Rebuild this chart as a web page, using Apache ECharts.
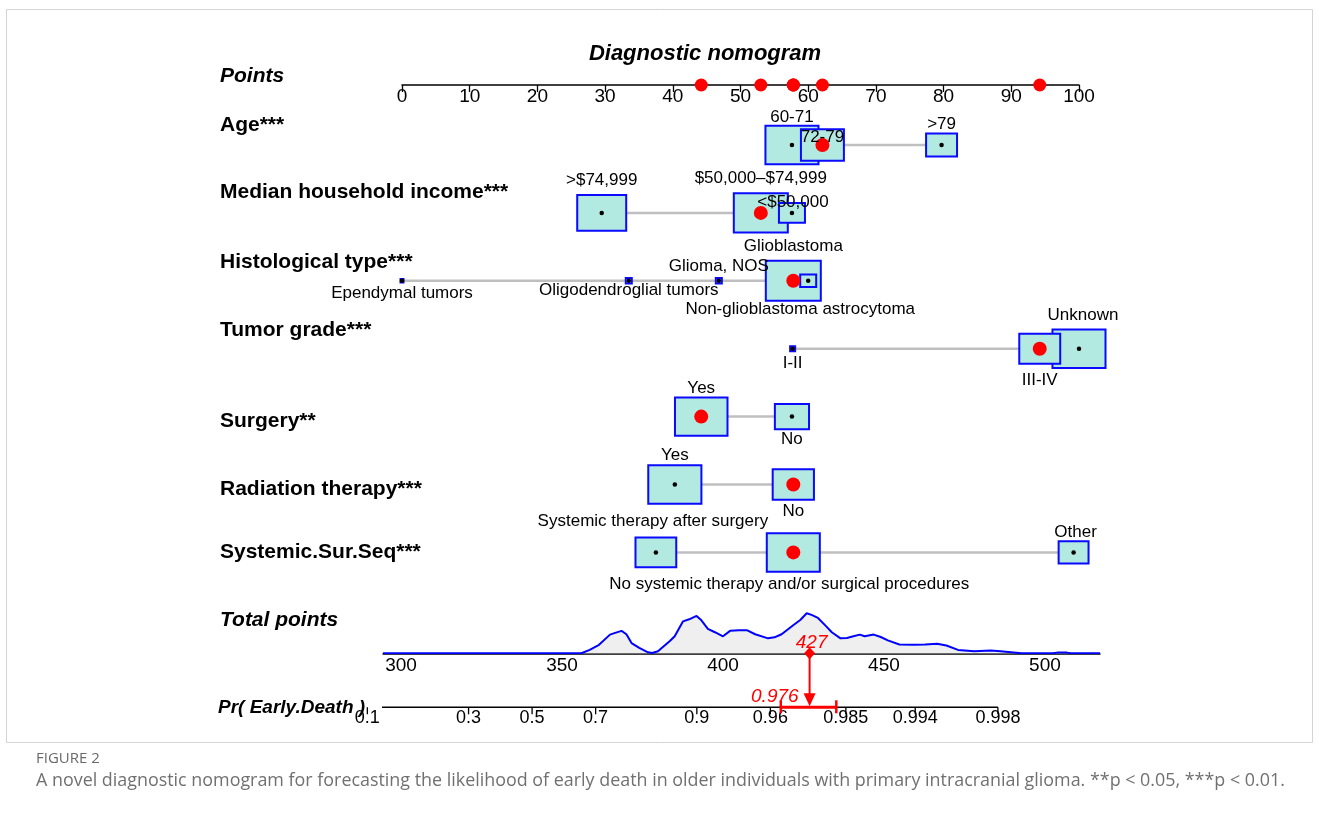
<!DOCTYPE html>
<html>
<head>
<meta charset="utf-8">
<title>Diagnostic nomogram</title>
<script src="https://cdn.jsdelivr.net/npm/echarts@6/dist/echarts.min.js"></script>
<style>
  html, body { margin: 0; padding: 0; background: #ffffff; }
  #chart { width: 1319px; height: 817px; }
</style>
</head>
<body>
<div id="chart"></div>
<script>
// ---------------- data ----------------
const variableNames = ['Age***', 'Median household income***', 'Histological type***', 'Tumor grade***',
  'Surgery**', 'Radiation therapy***', 'Systemic.Sur.Seq***'];

const ageLevels = ['60-71', '72-79', '>79'];
const agePoints = [57.6, 62.1, 79.7];
const ageFreq = [22.0, 14.7, 7.9];

const incomeLevels = ['>$74,999', '$50,000\u2013$74,999', '<$50,000'];
const incomePoints = [29.5, 53.0, 57.6];
const incomeFreq = [18.9, 22.8, 5.7];

const histLevels = ['Ependymal tumors', 'Oligodendroglial tumors', 'Glioma, NOS', 'Glioblastoma', 'Non-glioblastoma astrocytoma'];
const histPoints = [0, 33.5, 46.8, 57.8, 60.0];
const histFreq = [0.18, 0.47, 0.47, 23.6, 2.35];

const gradeLevels = ['I-II', 'III-IV', 'Unknown'];
const gradePoints = [57.7, 94.2, 100];
const gradeFreq = [0.36, 13.4, 22.0];

const surgeryLevels = ['Yes', 'No'];
const surgeryPoints = [44.2, 57.6];
const surgeryFreq = [21.6, 9.5];

const radiationLevels = ['Yes', 'No'];
const radiationPoints = [40.3, 57.8];
const radiationFreq = [22.1, 13.6];

const systemicLevels = ['Systemic therapy after surgery', 'No systemic therapy and/or surgical procedures', 'Other'];
const systemicPoints = [37.5, 57.8, 99.2];
const systemicFreq = [13.3, 22.0, 7.4];

// profile of the patient plotted in red
const patientLevels = ['72-79', '$50,000\u2013$74,999', 'Glioblastoma', 'III-IV', 'Yes', 'No',
  'No systemic therapy and/or surgical procedures'];

// axes
const pointTicks = [0, 10, 20, 30, 40, 50, 60, 70, 80, 90, 100];
const totalTicks = [300, 350, 400, 450, 500];
const probTicks = [0.1, 0.3, 0.5, 0.7, 0.9, 0.96, 0.985, 0.994, 0.998];

// logistic link: logit(p) = intercept + slope * total points
const lpIntercept = -14.63;
const lpSlope = 0.04294;
const probCI = [0.965, 0.983];

// distribution of total points in the cohort
const densityTotal = [294.4, 356, 358.6, 361.5, 364.9, 366.5, 368.5, 370, 371.6, 374, 376.7, 378, 379.8, 383.5, 385,
  387.6, 389.5, 391.8, 393.3, 395.3, 397.5, 400, 402.2, 405, 407.4, 410, 414, 416, 418.2, 421.7, 424, 426, 427.5,
  429.5, 432, 433.8, 436.5, 438.5, 440.5, 442.5, 444, 446.8, 449, 451.2, 454.8, 459.2, 462.8, 466.5, 469.4, 473,
  478.1, 483.2, 486.2, 492.7, 502.5, 503.8, 506.8, 508, 517.1];
const densityHeight = [0, 0, 10, 25, 55, 60, 66, 56, 30, 16, 3, 1, 6, 36, 50,
  94, 100, 110, 97, 72, 62, 50, 66, 68, 68, 56, 44, 47, 56, 82, 98, 118, 113,
  104, 80, 62, 44, 45, 50, 55, 50, 55, 48, 38, 26, 25, 26, 28, 23, 10,
  6, 8, 6, 0, 0, 2, 2, 0, 0];

// ---------------- layout ----------------
const FONT = '"Liberation Sans", Arial, sans-serif';
const CAPTION_FONT = '"Open Sans", sans-serif';
const NAME_X = 220;
const nameOffset = [-20, -21, -19, -18.5, 4.5, 4.5, -0.5];
const levelLabelOffset = [
  [[0, -28], [0, -8], [0, -21]],
  [[0, -33], [0, -35], [1, -11]],
  [[0, 13], [0, 10], [0, -14], [0, -34], [-8, 29]],
  [[0, 14.5], [0, 31.5], [4, -33.5]],
  [[0, -28], [0, 22.5]],
  [[0, -29], [0, 26.5]],
  [[-3, -31], [-4, 32], [2, -20.5]]
];
const BOX_K = 11.73;
const BOX_FILL = '#b2e9e0';
const BOX_EDGE = '#0a0aff';
const RED = '#ff0000';

const rows = [
  { levels: ageLevels, points: agePoints, freq: ageFreq },
  { levels: incomeLevels, points: incomePoints, freq: incomeFreq },
  { levels: histLevels, points: histPoints, freq: histFreq },
  { levels: gradeLevels, points: gradePoints, freq: gradeFreq },
  { levels: surgeryLevels, points: surgeryPoints, freq: surgeryFreq },
  { levels: radiationLevels, points: radiationPoints, freq: radiationFreq },
  { levels: systemicLevels, points: systemicPoints, freq: systemicFreq }
];

// one item per level: [points, row, freq, levelIndex]
const levelItems = [];
rows.forEach((r, i) => r.levels.forEach((lv, j) => levelItems.push([r.points[j], i, r.freq[j], j])));
// larger boxes first so that small ones stay visible on top
const boxItems = levelItems.slice().sort((a, b) => b[2] - a[2]);
const rangeItems = rows.map((r, i) => [Math.min(...r.points), i, Math.max(...r.points)]);
const patientItems = rows.map((r, i) => [r.points[r.levels.indexOf(patientLevels[i])], i]);
const patientTotal = patientItems.reduce((s, d) => s + d[0], 0);
const logit = p => Math.log(p / (1 - p));
const totalForProb = p => (logit(p) - lpIntercept) / lpSlope;
const patientProb = 1 / (1 + Math.exp(-(lpIntercept + lpSlope * patientTotal)));

function boxSize(freq) {
  const w = Math.max(5, BOX_K * Math.sqrt(freq));
  return [w, Math.max(5, 0.7 * w + 2)];
}

const chart = echarts.init(document.getElementById('chart'));

const option = {
  animation: false,
  backgroundColor: '#ffffff',
  textStyle: { fontFamily: FONT },
  grid: [
    { left: 402, width: 677, top: 60, height: 25 },          // points scale
    { left: 402, width: 677, top: 77.1, height: 543.2 },     // predictor rows
    { left: 383, width: 717, top: 603, height: 50.3 },       // total points
    { left: 383, width: 717, top: 653.3, height: 54 }        // probability
  ],
  xAxis: [
    {
      gridIndex: 0, type: 'value', min: 0, max: 100, interval: 10, position: 'bottom',
      axisLine: { lineStyle: { color: '#000', width: 1.5 } },
      axisTick: { length: 7, lineStyle: { color: '#000', width: 1.3 } },
      axisLabel: { margin: 2, fontSize: 19, color: '#000', fontFamily: FONT,
        customValues: pointTicks },
      splitLine: { show: false }
    },
    { gridIndex: 1, type: 'value', min: 0, max: 100, show: false },
    {
      gridIndex: 2, type: 'value', min: 294.4, max: 517.1, position: 'bottom',
      axisLine: { lineStyle: { color: '#000', width: 1.5 } },
      axisTick: { show: false },
      axisLabel: { margin: 3, fontSize: 19, color: '#000', fontFamily: FONT, customValues: totalTicks },
      splitLine: { show: false }
    },
    { gridIndex: 3, type: 'value', min: 294.4, max: 517.1, show: false }
  ],
  yAxis: [
    { gridIndex: 0, type: 'value', min: 0, max: 1, show: false },
    { gridIndex: 1, type: 'value', min: -1, max: 7, inverse: true, show: false },
    { gridIndex: 2, type: 'value', min: 0, max: 148, show: false },
    { gridIndex: 3, type: 'value', min: 0, max: 1, show: false }
  ],
  graphic: [
    { type: 'rect', silent: true, shape: { x: 6.5, y: 9.5, width: 1306, height: 733 },
      style: { fill: null, stroke: '#d4d4d4', lineWidth: 1 } },
    { type: 'text', x: 705, y: 54, style: { text: 'Diagnostic nomogram', font: 'italic bold 22px ' + FONT,
      fill: '#000', align: 'center', verticalAlign: 'middle' } },
    { type: 'text', x: NAME_X, y: 76, style: { text: 'Points', font: 'italic bold 21px ' + FONT,
      fill: '#000', align: 'left', verticalAlign: 'middle' } },
    { type: 'text', x: NAME_X, y: 620, style: { text: 'Total points', font: 'italic bold 21px ' + FONT,
      fill: '#000', align: 'left', verticalAlign: 'middle' } },
    { type: 'text', x: 218, y: 708, style: { text: 'Pr( Early.Death )', font: 'italic bold 19px ' + FONT,
      fill: '#000', align: 'left', verticalAlign: 'middle' } },
    { type: 'text', x: 36, y: 759, style: { text: 'FIGURE 2', font: '15px ' + CAPTION_FONT,
      fill: '#6a6a6a', align: 'left', verticalAlign: 'middle' } },
    { type: 'text', x: 36, y: 781, style: {
      text: 'A novel diagnostic nomogram for forecasting the likelihood of early death in older individuals with primary intracranial glioma. **p < 0.05, ***p < 0.01.',
      font: '17.9px ' + CAPTION_FONT, fill: '#707070', align: 'left', verticalAlign: 'middle' } }
  ],
  series: [
    // patient points on the points scale
    {
      type: 'scatter', xAxisIndex: 0, yAxisIndex: 0, data: patientItems.map(d => [d[0], 0]),
      symbol: 'circle', symbolSize: 13, itemStyle: { color: RED, opacity: 1 }, clip: false, silent: true, z: 5
    },
    // variable names
    {
      type: 'custom', xAxisIndex: 1, yAxisIndex: 1, silent: true,
      data: variableNames.map((n, i) => [0, i]),
      renderItem(params, api) {
        const i = api.value(1);
        const p = api.coord([0, i]);
        return { type: 'text', x: NAME_X, y: p[1] + nameOffset[i],
          style: { text: variableNames[i], font: 'bold 21px ' + FONT, fill: '#000', align: 'left', verticalAlign: 'middle' } };
      }
    },
    // connecting line of each row
    {
      type: 'custom', xAxisIndex: 1, yAxisIndex: 1, silent: true, z: 2,
      data: rangeItems,
      renderItem(params, api) {
        const a = api.coord([api.value(0), api.value(1)]);
        const b = api.coord([api.value(2), api.value(1)]);
        return { type: 'line', shape: { x1: a[0], y1: a[1], x2: b[0], y2: b[1] },
          style: { stroke: '#bfbfbf', lineWidth: 2.5 } };
      }
    },
    // frequency boxes
    {
      type: 'custom', xAxisIndex: 1, yAxisIndex: 1, silent: true, z: 3,
      data: boxItems,
      renderItem(params, api) {
        const c = api.coord([api.value(0), api.value(1)]);
        const s = boxSize(api.value(2));
        return { type: 'rect',
          shape: { x: c[0] - s[0] / 2 + 1, y: c[1] - s[1] / 2 + 1, width: s[0] - 2, height: s[1] - 2 },
          style: { fill: BOX_FILL, stroke: BOX_EDGE, lineWidth: 2 } };
      }
    },
    // level markers
    {
      type: 'scatter', xAxisIndex: 1, yAxisIndex: 1, silent: true, z: 4,
      data: levelItems.map(d => [d[0], d[1]]),
      symbol: 'circle', symbolSize: 4.5, itemStyle: { color: '#000', opacity: 1 }
    },
    // patient's level in each row
    {
      type: 'scatter', xAxisIndex: 1, yAxisIndex: 1, silent: true, z: 5,
      data: patientItems, symbol: 'circle', symbolSize: 14, itemStyle: { color: RED, opacity: 1 }
    },
    // level names
    {
      type: 'custom', xAxisIndex: 1, yAxisIndex: 1, silent: true, z: 6,
      data: levelItems,
      renderItem(params, api) {
        const row = api.value(1), j = api.value(3);
        const c = api.coord([api.value(0), row]);
        const off = levelLabelOffset[row][j];
        return { type: 'text', x: c[0] + off[0], y: c[1] + off[1],
          style: { text: rows[row].levels[j], font: '17px ' + FONT, fill: '#000', align: 'center', verticalAlign: 'middle' } };
      }
    },
    // density of total points
    {
      type: 'line', xAxisIndex: 2, yAxisIndex: 2, silent: true, z: 3,
      data: densityTotal.map((t, i) => [t, densityHeight[i]]),
      showSymbol: false, smooth: false,
      lineStyle: { color: '#0000ff', width: 2 },
      areaStyle: { color: '#efefef', opacity: 1 }
    },
    // patient's total points
    {
      type: 'custom', xAxisIndex: 2, yAxisIndex: 2, silent: true, z: 6,
      data: [[patientTotal, 0]],
      renderItem(params, api) {
        const c = api.coord([api.value(0), api.value(1)]);
        return { type: 'group', children: [
          { type: 'polygon', shape: { points: [[c[0], c[1] - 6], [c[0] + 5.5, c[1]], [c[0], c[1] + 6], [c[0] - 5.5, c[1]]] },
            style: { fill: RED } },
          { type: 'text', x: c[0] + 2, y: c[1] - 11,
            style: { text: String(Math.round(api.value(0))), font: 'italic 19px ' + FONT, fill: RED,
              align: 'center', verticalAlign: 'middle' } }
        ] };
      }
    },
    // probability axis line
    {
      type: 'line', xAxisIndex: 3, yAxisIndex: 3, silent: true, z: 2,
      data: [[totalForProb(probTicks[0]), 0], [totalForProb(probTicks[probTicks.length - 1]), 0]],
      showSymbol: false, lineStyle: { color: '#000', width: 1.5 }
    },
    // probability ticks and labels
    {
      type: 'custom', xAxisIndex: 3, yAxisIndex: 3, silent: true, z: 3,
      data: probTicks.map(p => [totalForProb(p), 0, p]),
      renderItem(params, api) {
        const c = api.coord([api.value(0), 0]);
        return { type: 'group', children: [
          { type: 'line', shape: { x1: c[0], y1: c[1], x2: c[0], y2: c[1] + 7 },
            style: { stroke: '#000', lineWidth: 1.3 } },
          { type: 'text', x: c[0], y: c[1] + 10.5,
            style: { text: String(api.value(2)), font: '18px ' + FONT, fill: '#000', align: 'center', verticalAlign: 'middle' } }
        ] };
      }
    },
    // arrow from total points to probability, with interval
    {
      type: 'custom', xAxisIndex: 3, yAxisIndex: 3, silent: true, z: 7,
      data: [[patientTotal, 0, totalForProb(probCI[0]), totalForProb(probCI[1]), patientProb]],
      renderItem(params, api) {
        const top = api.coord([api.value(0), 1]);
        const bot = api.coord([api.value(0), 0]);
        const lo = api.coord([api.value(2), 0]);
        const hi = api.coord([api.value(3), 0]);
        const x = top[0], y0 = bot[1];
        return { type: 'group', children: [
          { type: 'line', shape: { x1: lo[0], y1: y0, x2: hi[0], y2: y0 }, style: { stroke: RED, lineWidth: 3 } },
          { type: 'line', shape: { x1: lo[0], y1: y0 - 7, x2: lo[0], y2: y0 + 6 }, style: { stroke: RED, lineWidth: 2.5 } },
          { type: 'line', shape: { x1: hi[0], y1: y0 - 7, x2: hi[0], y2: y0 + 6 }, style: { stroke: RED, lineWidth: 2.5 } },
          { type: 'line', shape: { x1: x, y1: top[1], x2: x, y2: y0 - 12 }, style: { stroke: RED, lineWidth: 2 } },
          { type: 'polygon', shape: { points: [[x - 6, y0 - 14], [x + 6, y0 - 14], [x, y0 - 1]] }, style: { fill: RED } },
          { type: 'text', x: x - 11, y: y0 - 11,
            style: { text: api.value(4).toFixed(3), font: 'italic 19px ' + FONT, fill: RED, align: 'right', verticalAlign: 'middle' } }
        ] };
      }
    }
  ]
};

chart.setOption(option);
</script>
</body>
</html>
